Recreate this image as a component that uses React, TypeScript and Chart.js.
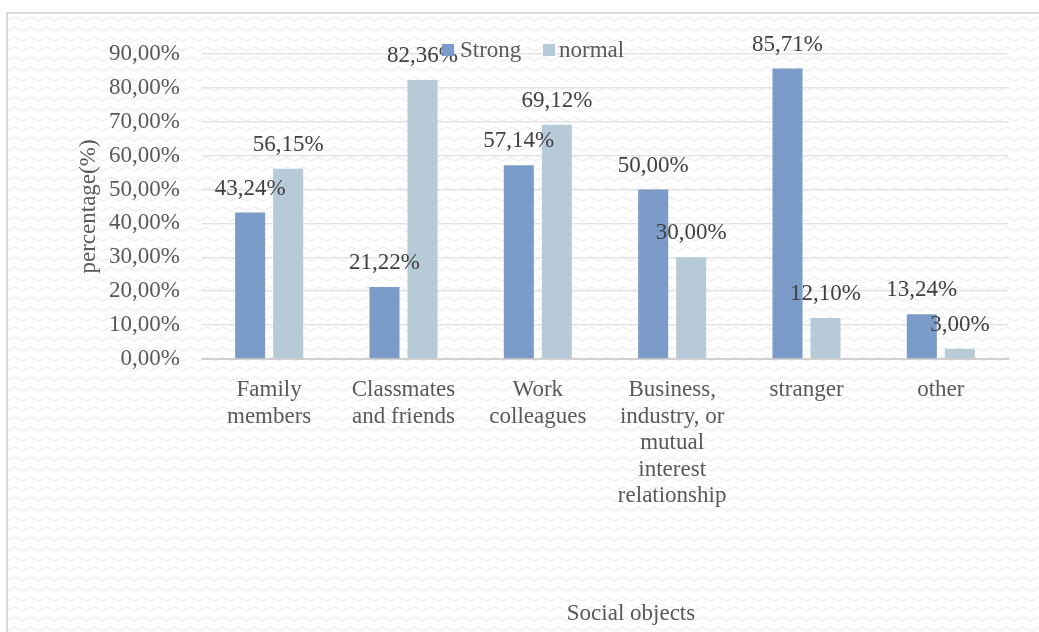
import React, { useEffect, useRef } from "react";
import { Chart, registerables } from "chart.js";

Chart.register(...registerables);

const categories: string[][] = [
  ["Family", "members"],
  ["Classmates", "and friends"],
  ["Work", "colleagues"],
  ["Business,", "industry, or", "mutual", "interest", "relationship"],
  ["stranger"],
  ["other"],
];
const seriesNames = ["Strong", "normal"];
const strongValues = [43.24, 21.22, 57.14, 50.0, 85.71, 13.24];
const normalValues = [56.15, 82.36, 69.12, 30.0, 12.1, 3.0];
const yMin = 0;
const yMax = 90;
const yStep = 10;
const xTitle = "Social objects";
const yTitle = "percentage(%)";

const FONT = "'Liberation Serif', 'DejaVu Serif', serif";
const STRONG_COLOR = "#7b9bc8";
const NORMAL_COLOR = "#b7cad7";
const TEXT = "#595959";
const LABEL = "#404040";

const fmt = (v: number) => v.toFixed(2).replace(".", ",") + "%";

const backgroundPlugin = {
  id: "bgPattern",
  beforeDraw(chart: any) {
    const ctx = chart.ctx as CanvasRenderingContext2D;
    const W = chart.width;
    const H = chart.height;
    ctx.save();
    ctx.fillStyle = "#ffffff";
    ctx.fillRect(0, 0, W, H);
    const fx = 7;
    const fy = 13;
    ctx.beginPath();
    ctx.rect(fx, fy, W - fx, H - fy);
    ctx.clip();
    ctx.strokeStyle = "#eeeeee";
    ctx.lineWidth = 1.3;
    for (let y0 = fy + 4; y0 < H + 10; y0 += 10) {
      ctx.beginPath();
      let i = 0;
      for (let x = fx - 8; x <= W + 8; x += 8) {
        const y = y0 + (i % 2 === 0 ? 0 : 4);
        if (i === 0) ctx.moveTo(x, y);
        else ctx.lineTo(x, y);
        i++;
      }
      ctx.stroke();
    }
    ctx.restore();
    ctx.save();
    ctx.strokeStyle = "#d9d9d9";
    ctx.lineWidth = 2;
    ctx.beginPath();
    ctx.moveTo(fx, H);
    ctx.lineTo(fx, fy);
    ctx.lineTo(W, fy);
    ctx.stroke();
    ctx.restore();
  },
};

const labelsPlugin = {
  id: "valueLabels",
  afterDatasetsDraw(chart: any) {
    const ctx = chart.ctx as CanvasRenderingContext2D;
    ctx.save();
    ctx.font = `23px ${FONT}`;
    ctx.fillStyle = LABEL;
    ctx.textAlign = "center";
    ctx.textBaseline = "middle";
    chart.data.datasets.forEach((ds: any, di: number) => {
      const meta = chart.getDatasetMeta(di);
      meta.data.forEach((bar: any, i: number) => {
        ctx.fillText(fmt(ds.data[i]), bar.x, bar.y - 24);
      });
    });
    ctx.restore();
  },
  afterDraw(chart: any) {
    const ctx = chart.ctx as CanvasRenderingContext2D;
    ctx.save();
    ctx.font = `23px ${FONT}`;
    ctx.textBaseline = "middle";
    ctx.textAlign = "left";
    const items = [
      { name: seriesNames[0], color: STRONG_COLOR, box: 442, text: 460 },
      { name: seriesNames[1], color: NORMAL_COLOR, box: 543, text: 559 },
    ];
    items.forEach((it) => {
      ctx.fillStyle = it.color;
      ctx.fillRect(it.box, 44, 12, 12);
      ctx.fillStyle = TEXT;
      ctx.fillText(it.name, it.text, 51);
    });
    ctx.textAlign = "center";
    ctx.fillStyle = TEXT;
    ctx.fillText(xTitle, 631, 614);
    ctx.restore();
  },
};

export default function App() {
  const ref = useRef<HTMLCanvasElement>(null);
  useEffect(() => {
    let chart: Chart | null = null;
    let cancelled = false;
    const build = () => {
      if (cancelled || !ref.current) return;
      chart = new Chart(ref.current, {
        type: "bar",
        data: {
          labels: categories,
          datasets: [
            {
              label: seriesNames[0],
              data: strongValues,
              backgroundColor: STRONG_COLOR,
              categoryPercentage: 0.566,
              barPercentage: 0.79,
            },
            {
              label: seriesNames[1],
              data: normalValues,
              backgroundColor: NORMAL_COLOR,
              categoryPercentage: 0.566,
              barPercentage: 0.79,
            },
          ],
        },
        options: {
          responsive: false,
          animation: false,
          layout: { padding: { left: 60, top: 54, right: 31, bottom: 0 } },
          plugins: {
            legend: { display: false },
            tooltip: { enabled: false },
          },
          scales: {
            x: {
              grid: { display: false },
              border: { display: true, color: "#d0d0d0", width: 2 },
              ticks: {
                color: TEXT,
                font: { family: FONT, size: 23, lineHeight: 1.15 },
                padding: 10,
                maxRotation: 0,
                autoSkip: false,
              },
              afterFit(scale: any) {
                scale.height = 273;
              },
            },
            y: {
              min: yMin,
              max: yMax,
              grid: { color: "#e3e3e3", lineWidth: 1.5, drawTicks: false },
              border: { display: false },
              ticks: {
                stepSize: yStep,
                color: TEXT,
                padding: 22,
                font: { family: FONT, size: 23 },
                callback: (v: any) => fmt(Number(v)),
              },
              title: {
                display: true,
                text: yTitle,
                color: TEXT,
                font: { family: FONT, size: 23, lineHeight: 1.2 },
                padding: { top: 15, bottom: 0 },
              },
              afterFit(scale: any) {
                scale.width = 142;
              },
            },
          },
        },
        plugins: [backgroundPlugin, labelsPlugin],
      });
    };
    const fonts: any = (document as any).fonts;
    if (fonts && fonts.load) {
      Promise.all([
        fonts.load("23px 'Liberation Serif'"),
        fonts.load("23px 'DejaVu Serif'"),
      ])
        .catch(() => null)
        .then(() => build());
    } else {
      build();
    }
    return () => {
      cancelled = true;
      if (chart) chart.destroy();
    };
  }, []);
  return (
    <div style={{ position: "absolute", left: 0, top: 0, width: 1039, height: 632 }}>
      <canvas ref={ref} width={1039} height={632} style={{ display: "block" }} />
    </div>
  );
}
